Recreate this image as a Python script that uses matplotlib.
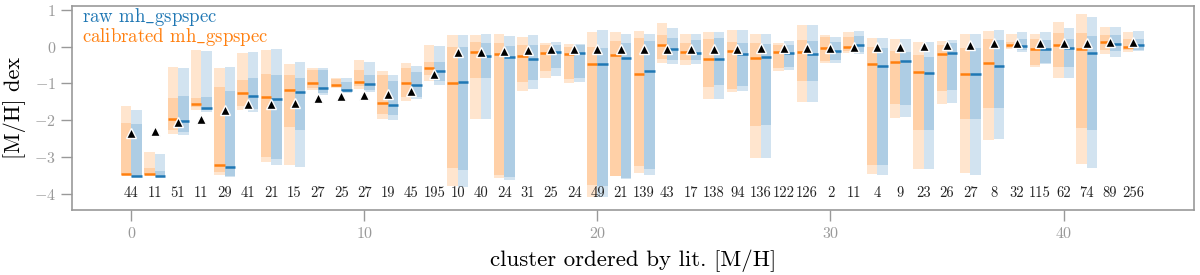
import matplotlib
matplotlib.use("Agg")
import matplotlib.pyplot as plt
import numpy as np

plt.rcParams['font.family'] = 'serif'
plt.rcParams['font.serif'] = ['cmr10']
plt.rcParams['mathtext.fontset'] = 'cm'
plt.rcParams['axes.formatter.use_mathtext'] = True

counts = [44, 11, 51, 11, 29, 41, 21, 15, 27, 25, 27, 19, 45, 195, 10, 40, 24, 31, 25, 24,
          49, 21, 139, 43, 17, 138, 94, 136, 122, 126, 2, 11, 4, 9, 23, 26, 27, 8, 32, 115,
          62, 74, 89, 256]

lit_mh = [-2.34, -2.30, -2.05, -1.96, -1.71, -1.57, -1.57, -1.53, -1.39, -1.34, -1.32, -1.29,
          -1.20, -0.75, -0.15, -0.15, -0.11, -0.09, -0.07, -0.07, -0.07, -0.05, -0.05, -0.05,
          -0.05, -0.05, -0.05, -0.02, -0.02, -0.02, -0.02, 0.0, 0.0, 0.0, 0.02, 0.04, 0.06,
          0.09, 0.09, 0.09, 0.09, 0.11, 0.14, 0.14]

# calibrated mh_gspspec
cal_outer_hi = [-1.62, -2.87, -0.55, -0.09, -0.59, -0.18, -0.09, -0.47, -0.59, -0.84, -0.37, -0.65,
                -0.43, 0.06, 0.32, 0.33, 0.36, 0.26, 0.09, 0.07, 0.41, 0.39, 0.44, 0.64, 0.35, 0.40,
                0.46, 0.36, 0.11, 0.59, 0.32, 0.40, 0.23, 0.20, 0.13, 0.15, 0.35, 0.44, 0.36, 0.36,
                0.67, 0.89, 0.55, 0.41]
cal_inner_hi = [-2.08, -3.30, -1.39, -1.40, -1.09, -0.91, -0.75, -0.77, -0.64, -0.89, -0.64, -0.77,
                -0.59, -0.41, 0.0, 0.14, 0.09, 0.05, 0.05, 0.0, 0.0, 0.16, 0.25, 0.32, 0.11, 0.20,
                0.12, 0.09, 0.05, 0.18, 0.27, 0.27, 0.0, -0.12, -0.23, 0.05, -0.02, 0.20, 0.13, 0.20,
                0.37, 0.38, 0.32, 0.20]
cal_median = [-3.46, -3.46, -1.97, -1.55, -3.21, -1.27, -1.37, -1.18, -0.98, -1.03, -0.97, -1.53,
              -1.00, -0.58, -1.00, -0.15, -0.21, -0.26, -0.16, -0.20, -0.46, -0.23, -0.73, 0.05,
              -0.14, -0.32, -0.12, -0.30, -0.15, -0.14, -0.03, 0.0, -0.48, -0.41, -0.68, -0.19,
              -0.73, -0.45, 0.06, -0.07, 0.04, -0.07, 0.14, 0.0]
cal_inner_lo = [-3.48, -3.47, -2.28, -1.64, -3.42, -1.62, -2.99, -2.18, -1.11, -1.09, -1.07, -1.82,
                -1.37, -0.77, -3.31, -0.85, -3.48, -0.96, -0.65, -0.89, -3.76, -3.51, -3.25, -0.32,
                -0.36, -1.09, -1.14, -2.16, -0.59, -0.94, -0.39, -0.11, -3.23, -1.57, -2.28, -1.21,
                -1.98, -1.66, -0.02, -0.50, -0.55, -2.20, -0.09, -0.09]
cal_outer_lo = [-3.50, -3.48, -2.39, -1.73, -3.48, -1.71, -3.14, -3.23, -1.18, -1.13, -1.14, -1.96,
                -1.47, -0.94, -3.78, -1.96, -3.57, -1.20, -0.85, -0.98, -4.10, -3.52, -3.43, -0.45,
                -0.50, -1.41, -1.23, -3.03, -0.66, -1.50, -0.45, -0.18, -3.46, -1.93, -3.32, -1.55,
                -3.43, -2.53, -0.07, -0.55, -0.84, -3.19, -0.21, -0.15]

# raw mh_gspspec
raw_outer_hi = [-1.71, -2.93, -0.57, -0.11, -0.55, -0.15, -0.07, -0.42, -0.57, -0.86, -0.42, -0.78,
                -0.53, 0.02, 0.32, 0.35, 0.29, 0.32, 0.12, 0.08, 0.47, 0.36, 0.35, 0.50, 0.35, 0.40,
                0.46, 0.36, 0.15, 0.59, 0.26, 0.43, 0.23, 0.20, 0.14, 0.18, 0.36, 0.46, 0.41, 0.41,
                0.50, 0.80, 0.53, 0.43]
raw_inner_hi = [-2.11, -3.39, -1.35, -1.37, -1.20, -0.86, -0.77, -0.84, -0.64, -0.96, -0.77, -0.94,
                -0.68, -0.41, 0.0, 0.09, 0.02, 0.06, 0.06, 0.05, -0.04, 0.09, 0.16, 0.25, 0.18, 0.23,
                0.09, 0.07, 0.05, 0.16, 0.14, 0.29, -0.03, -0.14, -0.29, 0.09, -0.03, 0.18, 0.20, 0.18,
                0.20, 0.29, 0.32, 0.21]
raw_median = [-3.52, -3.52, -2.03, -1.67, -3.28, -1.35, -1.42, -1.24, -1.13, -1.18, -1.02, -1.59,
              -1.03, -0.65, -0.95, -0.24, -0.28, -0.32, -0.15, -0.17, -0.48, -0.30, -0.66, -0.05,
              -0.18, -0.32, -0.20, -0.27, -0.16, -0.21, -0.11, 0.06, -0.51, -0.38, -0.71, -0.17,
              -0.75, -0.53, 0.03, -0.06, -0.03, -0.18, 0.08, 0.05]
raw_inner_lo = [-3.53, -3.53, -2.32, -1.73, -3.51, -1.69, -3.05, -2.28, -1.26, -1.23, -1.17, -1.87,
                -1.37, -0.94, -3.37, -0.85, -3.55, -0.91, -0.59, -0.86, -3.78, -3.57, -3.33, -0.36,
                -0.35, -1.05, -1.07, -2.14, -0.55, -0.94, -0.36, -0.14, -3.23, -1.58, -2.28, -1.17,
                -1.97, -1.66, -0.09, -0.44, -0.55, -2.26, -0.11, -0.09]
raw_outer_lo = [-3.55, -3.55, -2.40, -1.78, -3.55, -1.78, -3.21, -3.28, -1.32, -1.27, -1.23, -1.99,
                -1.43, -1.05, -3.81, -1.96, -3.64, -1.16, -0.79, -0.96, -4.10, -3.60, -3.48, -0.47,
                -0.48, -1.41, -1.20, -3.02, -0.62, -1.50, -0.45, -0.20, -3.48, -1.91, -3.34, -1.52,
                -3.48, -2.52, -0.14, -0.48, -0.85, -3.30, -0.29, -0.12]

ORANGE = '#ff7f0e'
BLUE = '#1f77b4'
GREY = '#999999'
W = 0.45

fig = plt.figure(figsize=(12, 2.75), dpi=100)
ax = fig.add_axes([0.06, 0.236, 0.935, 0.742])

x = np.arange(len(counts))

def draw(xl, olo, ohi, ilo, ihi, med, color):
    olo, ohi, ilo, ihi, med = map(np.asarray, (olo, ohi, ilo, ihi, med))
    ax.bar(xl, ohi - olo, bottom=olo, width=W, align='edge', color=color, alpha=0.2, lw=0, zorder=1)
    ax.bar(xl, ihi - ilo, bottom=ilo, width=W, align='edge', color=color, alpha=0.2, lw=0, zorder=1)
    ax.hlines(med, xl, xl + W, colors=color, lw=1.8, zorder=2)

draw(x - W, cal_outer_lo, cal_outer_hi, cal_inner_lo, cal_inner_hi, cal_median, ORANGE)
draw(x, raw_outer_lo, raw_outer_hi, raw_inner_lo, raw_inner_hi, raw_median, BLUE)

ax.plot(x, lit_mh, linestyle='none', marker='^', color='black', markersize=7.5,
        markeredgecolor='white', markeredgewidth=1.0, zorder=4)

for xi, n in zip(x, counts):
    ax.text(xi, -4.0, str(n), ha='center', va='center', fontsize=10.5, color='#222222', zorder=5)

ax.text(0.009, 0.946, r'raw mh$\_$gspspec', transform=ax.transAxes, color=BLUE,
        fontsize=13.5, ha='left', va='center')
ax.text(0.009, 0.848, r'calibrated mh$\_$gspspec', transform=ax.transAxes, color=ORANGE,
        fontsize=13.5, ha='left', va='center')

ax.set_xlim(-2.55, 45.6)
ax.set_ylim(-4.45, 1.11)
ax.set_xticks([0, 10, 20, 30, 40])
ax.set_yticks([-4, -3, -2, -1, 0, 1])
ax.tick_params(direction='out', length=8, width=1, color=GREY, labelcolor=GREY, labelsize=11.5)
for s in ax.spines.values():
    s.set_color(GREY)
    s.set_linewidth(1.2)

ax.set_xlabel('cluster ordered by lit. [M/H]', fontsize=16.5, labelpad=6)
ax.set_ylabel('[M/H] dex', fontsize=16, labelpad=6)

fig.savefig('out.png', dpi=100)
